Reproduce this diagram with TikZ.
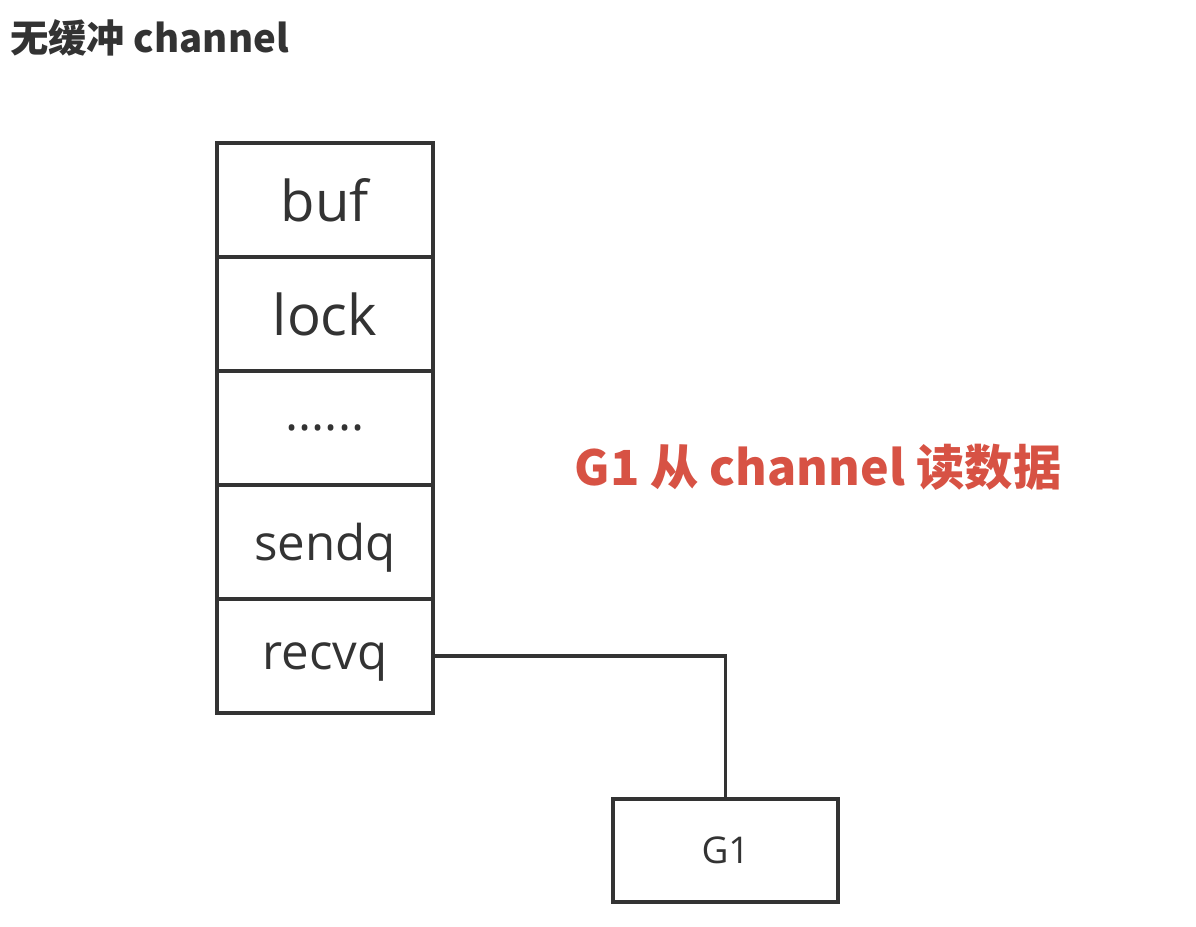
\documentclass[tikz,border=0pt]{standalone}
\usepackage{fontspec}
\setmainfont{Open Sans}
\newfontfamily\cjk{Noto Sans CJK SC}
\usetikzlibrary{positioning}
\definecolor{inkgray}{RGB}{51,51,51}
\definecolor{notered}{RGB}{215,82,68}
\tikzset{>=latex}
\tikzset{
  cell/.style={draw=inkgray, line width=2.2pt, minimum width=4.32cm, minimum height=2.28cm, outer sep=0pt, inner sep=0pt, text=inkgray},
  smallcell/.style={cell, font=\fontsize{28}{32}\selectfont, text depth=0pt},
  gbox/.style={draw=inkgray, line width=2.2pt, minimum width=4.5cm, minimum height=2.06cm, outer sep=0pt, text=inkgray, font=\fontsize{21}{24}\selectfont}
}

\begin{document}
\begin{tikzpicture}[x=0.02cm, y=-0.02cm]
\useasboundingbox (0,0) rectangle (1196,926);
	\node[anchor=west, text=inkgray, font=\cjk\bfseries\fontsize{21.8}{24}\selectfont] (title) at (4,38) {无缓冲 channel};
% channel struct
\node[cell, font=\fontsize{32}{36}\selectfont] (buf) at (325,200) {buf};
\node[cell, font=\fontsize{32}{36}\selectfont, below=0pt of buf] (lock) {lock};
\node[smallcell, below=0pt of lock] (dots) {......};
\node[smallcell, below=0pt of dots] (sendq) {sendq};
\node[smallcell, below=0pt of sendq] (recvq) {recvq};
% waiting goroutine
\node[gbox] (g1) at (725.5,850.5) {G1};
\draw[inkgray, line width=2.2pt] (recvq.east) -| (g1.north);
	\node[text=notered, font=\cjk\bfseries\fontsize{27.5}{30}\selectfont] (note) at (818,467) {G1 从 channel 读数据};
\end{tikzpicture}
\end{document}
